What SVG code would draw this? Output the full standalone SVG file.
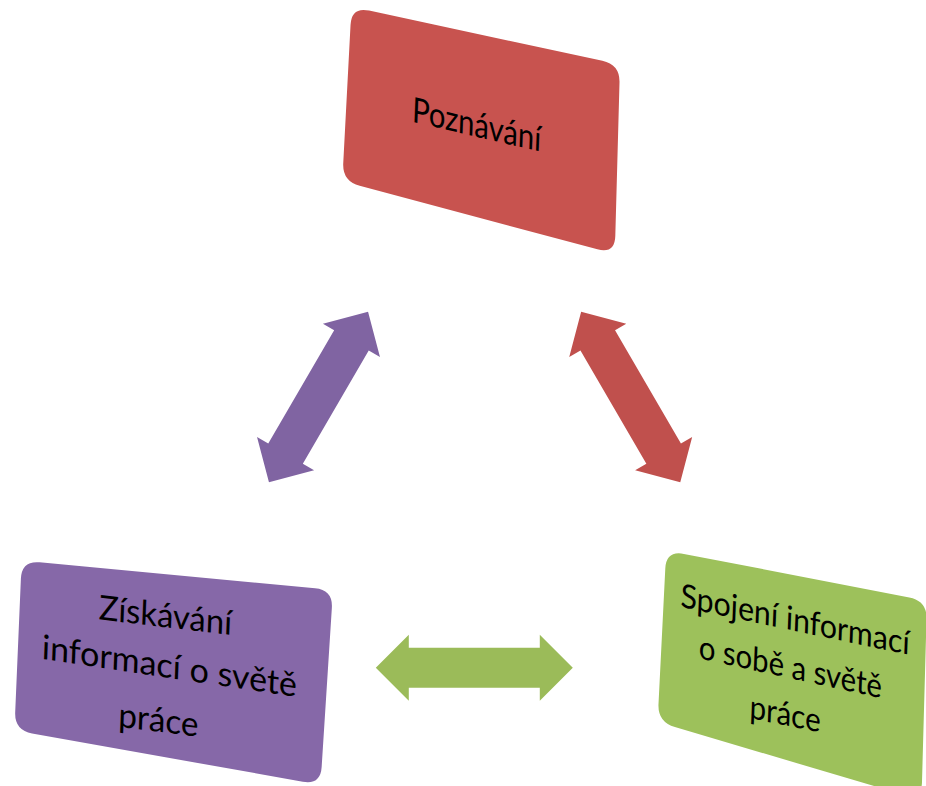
<svg xmlns="http://www.w3.org/2000/svg" xmlns:xlink="http://www.w3.org/1999/xlink" width="926" height="786" viewBox="0 0 926 786">
  <style>
    .lbl { font-family: Lato, "Open Sans", "Liberation Sans", sans-serif; fill: #000000; text-anchor: middle; }
    .red { fill: #C8534F; }
    .purple { fill: #8668A8; }
    .green { fill: #9DC15B; }
    .a-red { fill: #C0504D; }
    .a-purple { fill: #8064A2; }
    .a-green { fill: #9BBB59; }
  </style>
  <defs>
    <path id="dbl" d="M-98.5,0 L-65.5,-33 L-65.5,-20 L65.5,-20 L65.5,-33 L98.5,0 L65.5,33 L65.5,20 L-65.5,20 L-65.5,33 Z"/>
  </defs>
  <rect x="0" y="0" width="926" height="786" fill="#FFFFFF"/>

  <g id="connectors">
    <use xlink:href="#dbl" class="a-purple" transform="translate(318.5,397) rotate(-59.8)"/>
    <use xlink:href="#dbl" class="a-red" transform="translate(630.7,397) rotate(59.8)"/>
    <use xlink:href="#dbl" class="a-green" transform="translate(474.3,667.7)"/>
  </g>

  <g id="node-poznavani">
    <path class="red" d="M369.1,10.6 L602.4,60.8 Q620,64.6 619.5,82.6 L615.3,236 Q614.8,254 597.4,249.35 L359.7,185.75 Q342.3,181.1 343.25,163.1 L350.55,24.8 Q351.5,6.8 369.1,10.6 Z"/>
    <text class="lbl" font-size="35" textLength="129" lengthAdjust="spacingAndGlyphs" transform="matrix(1,0.233,-0.04,1,476.2,136.7)" x="0" y="0">Poznávání</text>
  </g>

  <g id="node-ziskavani">
    <path class="purple" d="M39.6,562.3 L315.1,588.2 Q333,589.9 331.85,607.9 L321.65,766.9 Q320.5,784.9 302.8,781.7 L32.1,733.5 Q14.4,730.3 15.2,712.3 L20.9,578.6 Q21.7,560.6 39.6,562.3 Z"/>
    <text class="lbl" font-size="34" textLength="133" lengthAdjust="spacingAndGlyphs" transform="matrix(1,0.118,-0.04,1,165,627.2)" x="0" y="0">Získávání</text>
    <text class="lbl" font-size="34" textLength="255" lengthAdjust="spacingAndGlyphs" transform="matrix(1,0.15,-0.04,1,169,677.9)" x="0" y="0">informací o světě</text>
    <text class="lbl" font-size="34" textLength="80" lengthAdjust="spacingAndGlyphs" transform="matrix(1,0.125,-0.04,1,158,731.7)" x="0" y="0">práce</text>
  </g>

  <g id="node-spojeni">
    <path class="green" d="M683.9,553.9 L909.3,597.4 Q927,600.8 926.5,618.8 L922,782 Q921.5,800 904.2,794.9 L674.9,727.1 Q657.6,722 658.5,704 L665.3,568.5 Q666.2,550.5 683.9,553.9 Z"/>
    <text class="lbl" font-size="33" textLength="229" lengthAdjust="spacingAndGlyphs" transform="matrix(1,0.21,-0.04,1,794.7,630.8)" x="0" y="0">Spojení informací</text>
    <text class="lbl" font-size="33" textLength="183" lengthAdjust="spacingAndGlyphs" transform="matrix(1,0.218,-0.04,1,790,678.3)" x="0" y="0">o sobě a světě</text>
    <text class="lbl" font-size="33" textLength="71" lengthAdjust="spacingAndGlyphs" transform="matrix(1,0.2,-0.04,1,784.7,725.2)" x="0" y="0">práce</text>
  </g>
</svg>
